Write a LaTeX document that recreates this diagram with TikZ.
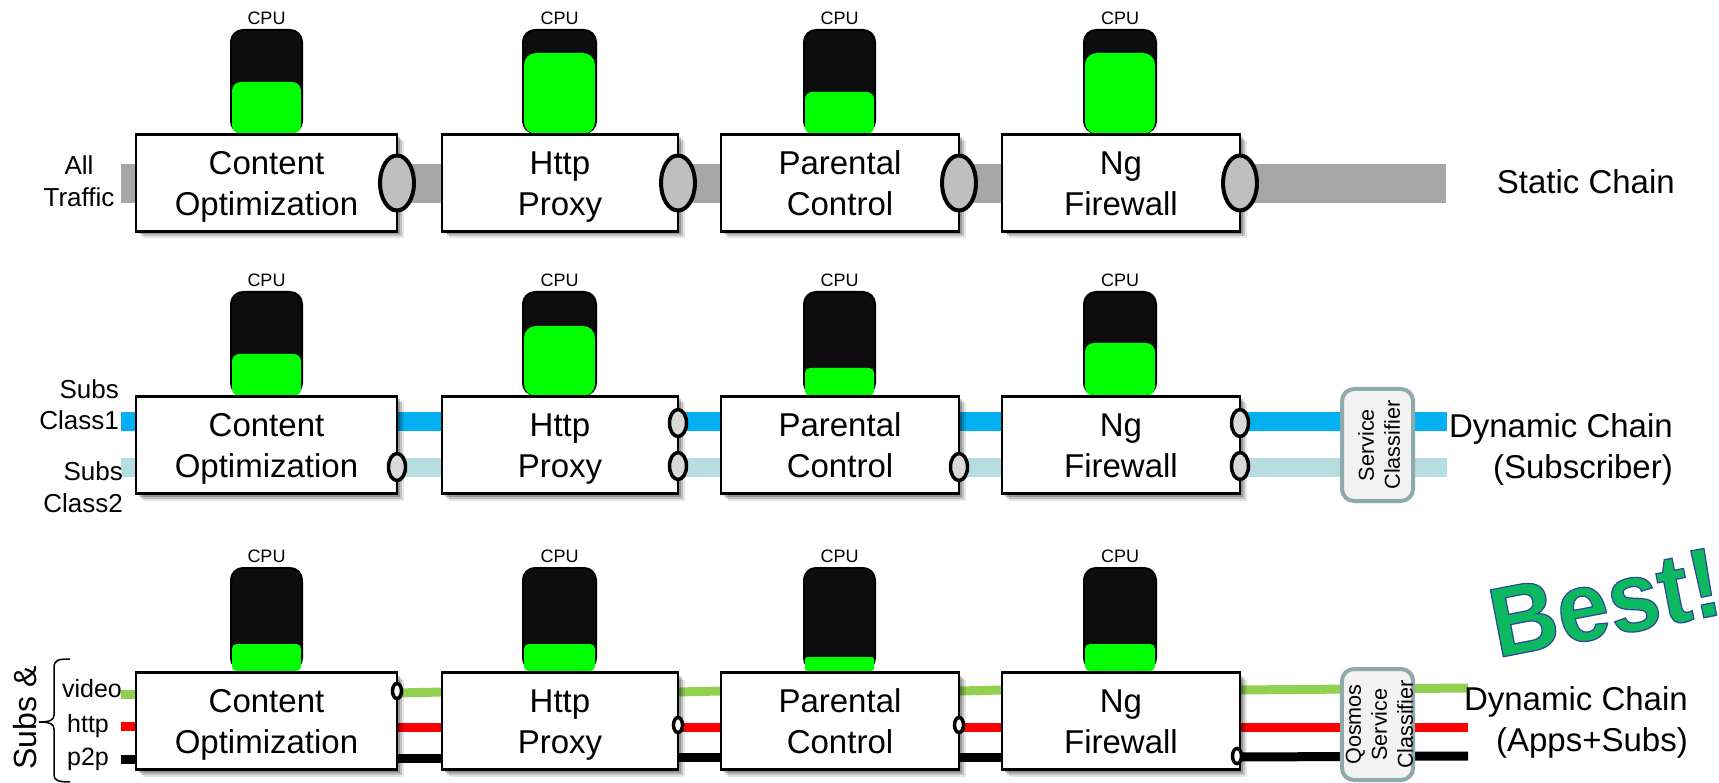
\documentclass[tikz,border=0pt]{standalone}
\usepackage{fontspec}
\setmainfont{Liberation Sans}
\newfontfamily\bestfont[FakeStretch=0.94]{Liberation Sans}
\usetikzlibrary{shapes.geometric,shadows,calc}
\definecolor{barblack}{HTML}{0D0D0D}
\definecolor{meter}{HTML}{00FF00}
\definecolor{allgray}{HTML}{A6A6A6}
\definecolor{subsone}{HTML}{00B0F0}
\definecolor{substwo}{HTML}{B7DDE1}
\definecolor{appgreen}{HTML}{92D050}
\definecolor{classedge}{HTML}{8FA9AC}
\definecolor{classfill}{HTML}{F2F2F2}
\definecolor{bestgreen}{HTML}{0CB860}
\tikzset{
  softshadow/.style={
    drop shadow={shadow xshift=3pt,shadow yshift=-3pt,opacity=.22,fill=black},
    drop shadow={shadow xshift=5pt,shadow yshift=-5pt,opacity=.16,fill=black},
    drop shadow={shadow xshift=7pt,shadow yshift=-7pt,opacity=.10,fill=black}},
  vnf/.style={draw=black,fill=white,line width=2.4pt,softshadow,minimum height=97pt,
    inner sep=0pt,outer sep=0pt,align=center,font=\fontsize{33}{41}\selectfont},
  slot/.style={minimum height=97pt,inner sep=0pt,outer sep=0pt},
  cpubody/.style={draw=black,fill=barblack,line width=2pt,inner sep=0pt},
  cpufill/.style={fill=meter,inner sep=0pt},
  cpulabel/.style={font=\fontsize{18}{20}\selectfont,inner sep=0pt},
  bigport/.style={ellipse,draw=black,fill=gray!50!white,line width=4pt,inner sep=0pt,minimum width=34pt,minimum height=55pt},
  midport/.style={ellipse,draw=black,fill=black!15,line width=3.5pt,inner sep=0pt,minimum width=17pt,minimum height=27pt},
  smallport/.style={ellipse,draw=black,fill=white,line width=3.5pt,inner sep=0pt,minimum width=9pt,minimum height=15pt},
  classifier/.style={draw=classedge,fill=classfill,line width=4pt,rounded corners=12pt,inner sep=0pt,
    rotate=90,align=center,minimum height=71pt,font=\fontsize{21.6}{26}\selectfont},
  chainlabel/.style={anchor=east,align=right,inner sep=0pt,font=\fontsize{33}{41}\selectfont},
  sidelabel/.style={inner sep=0pt,font=\fontsize{26}{32}\selectfont},
  applabel/.style={inner sep=0pt,anchor=base,font=\fontsize{25}{30}\selectfont},
  bracepath/.style={draw=black,line width=1.5pt},
  graybar/.style={draw=allgray,line width=39pt},
  blueline/.style={draw=subsone,line width=19pt},
  paleline/.style={draw=substwo,line width=19pt},
  greenline/.style={draw=appgreen,line width=9pt},
  redline/.style={draw=red,line width=9pt},
  blackline/.style={draw=black,line width=9pt},
}
\newcommand{\twoline}[2]{\rule{0pt}{36pt}#1\\#2\rule[-12pt]{0pt}{12pt}}
\newcommand{\twosmall}[2]{\rule{0pt}{24pt}#1\\#2\rule[-8pt]{0pt}{8pt}}
% name, left, right, top, bottom, green top
\newcommand{\cpumeter}[6]{%
  \pgfmathsetmacro\mycx{(#2+#3)/2}%
  \pgfmathsetmacro\mybw{#3-#2-2}%
  \pgfmathsetmacro\mybh{#5-#4-2}%
  \pgfmathsetmacro\mybc{(#4+#5)/2}%
  \pgfmathsetmacro\mygw{#3-#2-4}%
  \pgfmathsetmacro\mygh{#5-#6}%
  \pgfmathsetmacro\mygc{(#5+#6)/2}%
  \pgfmathsetmacro\mygr{0.17*min(\mygh,\mygw)}%
  \pgfmathsetmacro\myty{#4-11}%
  \node[cpulabel] (#1t) at (\mycx,\myty) {CPU};
  \node[cpubody,rounded corners=12pt,minimum width=\mybw pt,minimum height=\mybh pt] (#1) at (\mycx,\mybc) {};
  \node[cpufill,rounded corners=\mygr pt,minimum width=\mygw pt,minimum height=\mygh pt] (#1g) at (\mycx,\mygc) {};
}
% row centre, style, from box, y, to box, y
\newcommand{\seg}[6]{\draw[#2] ($(#3.east)+(0,#4-#1)$) -- ($(#5.west)+(0,#6-#1)$);}
\begin{document}
\begin{tikzpicture}[x=1pt,y=-1pt]
\useasboundingbox (0,0) rectangle (1719,783);

% free ends
\coordinate (inA) at (121,183.5);
\coordinate (outA) at (1446,183.5);
\coordinate (inB1) at (121,422);
\coordinate (inB2) at (121,467);
\coordinate (outB1) at (1447,422);
\coordinate (outB2) at (1447,467);
\coordinate (inC1) at (121,694);
\coordinate (inC2) at (121,726);
\coordinate (inC3) at (121,759);
\coordinate (outC1) at (1468,688);
\coordinate (outC2) at (1468,727);
\coordinate (outC3) at (1468,756);

% CPU meters
\cpumeter{c1a}{230}{303}{29}{134}{82}
\cpumeter{c1b}{522}{597}{29}{134}{53}
\cpumeter{c1c}{803}{876}{29}{134}{92}
\cpumeter{c1d}{1083}{1157}{29}{134}{53}
\cpumeter{c2a}{230}{303}{291}{396}{354}
\cpumeter{c2b}{522}{597}{291}{396}{326}
\cpumeter{c2c}{803}{876}{291}{396}{368}
\cpumeter{c2d}{1083}{1157}{291}{396}{343}
\cpumeter{c3a}{230}{303}{567}{671}{644}
\cpumeter{c3b}{522}{597}{567}{671}{644}
\cpumeter{c3c}{803}{876}{567}{671}{657}
\cpumeter{c3d}{1083}{1157}{567}{671}{644}

% places of the boxes (empty first, so the lines can lie under the boxes)
\path node[slot,minimum width=261pt] (p1a) at (266.5,183) {}
      node[slot,minimum width=236pt] (p1b) at (560,183) {}
      node[slot,minimum width=238pt] (p1c) at (840,183) {}
      node[slot,minimum width=238pt] (p1d) at (1121,183) {}
      node[slot,minimum width=261pt] (p2a) at (266.5,445) {}
      node[slot,minimum width=236pt] (p2b) at (560,445) {}
      node[slot,minimum width=238pt] (p2c) at (840,445) {}
      node[slot,minimum width=238pt] (p2d) at (1121,445) {}
      node[slot,minimum width=261pt] (p3a) at (266.5,721) {}
      node[slot,minimum width=236pt] (p3b) at (560,721) {}
      node[slot,minimum width=238pt] (p3c) at (840,721) {}
      node[slot,minimum width=238pt] (p3d) at (1121,721) {};

% traffic lines
\draw[graybar] (inA) -- (outA);

\draw[blueline] (inB1) -- (outB1);
\draw[paleline] (inB2) -- (outB2);

\draw[greenline] (inC1) -- (p3a.center |- inC1);
\draw[redline] (inC2) -- (p3a.center |- inC2);
\draw[blackline] (inC3) -- (p3a.center |- inC3);
\seg{721}{greenline}{p3a}{693}{p3b}{692}
\seg{721}{redline}{p3a}{727}{p3b}{727}
\seg{721}{blackline}{p3a}{758}{p3b}{758}
\seg{721}{greenline}{p3b}{692}{p3c}{691}
\seg{721}{redline}{p3b}{727}{p3c}{727}
\seg{721}{blackline}{p3b}{757}{p3c}{757}
\seg{721}{greenline}{p3c}{691}{p3d}{690}
\seg{721}{redline}{p3c}{727}{p3d}{727}
\seg{721}{blackline}{p3c}{757}{p3d}{757}
\draw[greenline] ($(p3d.east)+(0,-31)$) -- (outC1);
\draw[redline] ($(p3d.east)+(0,6)$) -- (outC2);
\draw[blackline] ($(p3d.east)+(0,36)$) -- (outC3);

% function boxes
\node[vnf,minimum width=261pt] (r1a) at (p1a) {\twoline{Content}{Optimization}};
\node[vnf,minimum width=236pt] (r1b) at (p1b) {\twoline{Http}{Proxy}};
\node[vnf,minimum width=238pt] (r1c) at (p1c) {\twoline{Parental}{Control}};
\node[vnf,minimum width=238pt] (r1d) at (p1d) {\twoline{Ng}{Firewall}};
\node[vnf,minimum width=261pt] (r2a) at (p2a) {\twoline{Content}{Optimization}};
\node[vnf,minimum width=236pt] (r2b) at (p2b) {\twoline{Http}{Proxy}};
\node[vnf,minimum width=238pt] (r2c) at (p2c) {\twoline{Parental}{Control}};
\node[vnf,minimum width=238pt] (r2d) at (p2d) {\twoline{Ng}{Firewall}};
\node[vnf,minimum width=261pt] (r3a) at (p3a) {\twoline{Content}{Optimization}};
\node[vnf,minimum width=236pt] (r3b) at (p3b) {\twoline{Http}{Proxy}};
\node[vnf,minimum width=238pt] (r3c) at (p3c) {\twoline{Parental}{Control}};
\node[vnf,minimum width=238pt] (r3d) at (p3d) {\twoline{Ng}{Firewall}};

% ports
\node[bigport] (e1a) at (r1a.east) {};
\node[bigport] (e1b) at (r1b.east) {};
\node[bigport] (e1c) at (r1c.east) {};
\node[bigport] (e1d) at (r1d.east) {};

\node[midport] (e2a) at ($(r2a.east)+(0,22)$) {};
\node[midport] (e2b) at ($(r2b.east)+(0,-22)$) {};
\node[midport] (e2bb) at ($(r2b.east)+(0,21)$) {};
\node[midport] (e2c) at ($(r2c.east)+(0,22)$) {};
\node[midport] (e2d) at ($(r2d.east)+(0,-22)$) {};
\node[midport] (e2dd) at ($(r2d.east)+(0,21)$) {};

\node[smallport] (e3a) at ($(r3a.east)+(0,-30)$) {};
\node[smallport] (e3b) at ($(r3b.east)+(0,4)$) {};
\node[smallport] (e3c) at ($(r3c.east)+(0,4)$) {};
\node[smallport] (e3d) at ($(r3d.east)+(-3,35)$) {};

% classifiers
\node[classifier,minimum width=112pt] (sc) at (1377.5,445) {\rule{0pt}{19pt}Service\\Classifier};
\node[classifier,minimum width=111pt] (qs) at (1377.5,724.5) {\rule{0pt}{19pt}Qosmos\\Service\\Classifier};

% chain labels
\node[chainlabel,anchor=base east] (static) at (1675,194) {Static Chain};
\node[chainlabel] (subs) at (1673,445.5) {\twoline{Dynamic Chain}{(Subscriber)}};
\node[chainlabel] (apps) at (1688,718.5) {\twoline{Dynamic Chain}{(Apps+Subs)}};

% left labels
\node[sidelabel,align=center] (all) at (79,183) {\twosmall{All}{Traffic}};
\node[sidelabel,align=right,anchor=east] (cl1) at (119,406) {\twosmall{Subs}{Class1}};
\node[sidelabel,align=right,anchor=east] (cl2) at (123,488) {\twosmall{Subs}{Class2}};
\node[applabel] (video) at (92,697) {video};
\node[applabel] (http) at (88,732) {http};
\node[applabel] (ptp) at (88,765) {p2p};
\node[inner sep=0pt,rotate=90,anchor=base,font=\fontsize{32}{38}\selectfont] (subsamp) at (36,718) {Subs \&};

% bracket
\coordinate (brTop) at (70,659);
\coordinate (brTip) at (39,722);
\coordinate (brEnd) at (70,782);
\draw[bracepath] (brTop) .. controls (58,659) and (54,660) .. (54,668) -- (54,715)
  .. controls (54,720) and (50,722) .. (brTip) .. controls (50,722) and (54,724) .. (54,729)
  -- (54,775) .. controls (54,780) and (58,782) .. (brEnd);

% Best!
\node[inner sep=0pt,anchor=base west,rotate=11,text=bestgreen,font=\bestfont\bfseries\fontsize{99}{110}\selectfont] (best) at (1497,658)
  {\special{pdf: code q 2 Tr 1.2 w 0.18 0.27 0.60 RG}Best!\special{pdf: code Q}};
\end{tikzpicture}
\end{document}
